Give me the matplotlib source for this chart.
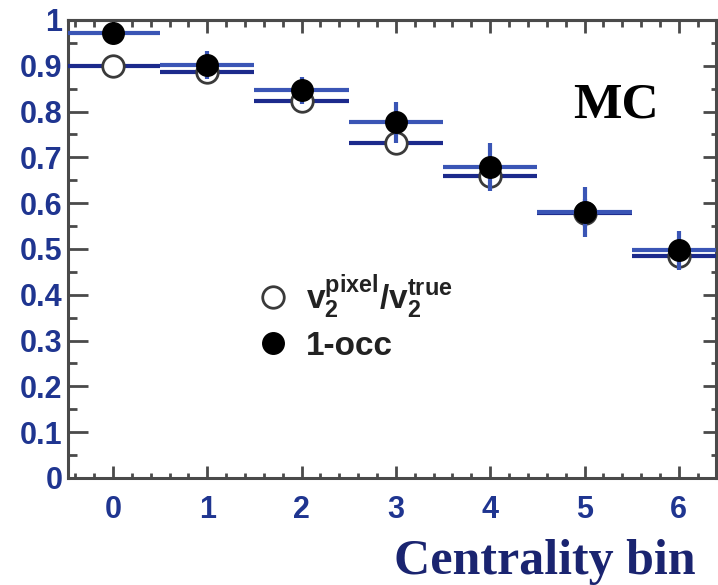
import matplotlib
matplotlib.use("Agg")
import matplotlib.pyplot as plt
from matplotlib.ticker import MultipleLocator, FixedLocator
from matplotlib.lines import Line2D

plt.rcParams['font.family'] = ['Liberation Sans', 'DejaVu Sans']
plt.rcParams['mathtext.fontset'] = 'custom'
plt.rcParams['mathtext.rm'] = 'Liberation Sans'
plt.rcParams['mathtext.bf'] = 'Liberation Sans:bold'
plt.rcParams['mathtext.it'] = 'Liberation Sans'

# datos
bins      = [0, 1, 2, 3, 4, 5, 6]
ancho_bin = 0.5
occ       = [0.972, 0.902, 0.846, 0.776, 0.679, 0.580, 0.497]   # 1-occ (llenos)
occ_err   = [0.012, 0.030, 0.030, 0.045, 0.052, 0.055, 0.043]
ratio     = [0.899, 0.887, 0.822, 0.731, 0.660, 0.578, 0.484]   # v2 pixel / v2 true (vacios)
ratio_err = [0.022, 0.028, 0.022, 0.022, 0.028, 0.030, 0.025]

yticks      = [0, 0.1, 0.2, 0.3, 0.4, 0.5, 0.6, 0.7, 0.8, 0.9, 1.0]
ytick_lbls  = ["0", "0.1", "0.2", "0.3", "0.4", "0.5", "0.6", "0.7", "0.8", "0.9", "1"]
xtick_lbls  = ["0", "1", "2", "3", "4", "5", "6"]

AZUL_TICK = '#1f3590'
GRIS      = '#4a4a4a'

fig = plt.figure(figsize=(7.18, 5.85), dpi=100)
ax = fig.add_axes([0.0947, 0.183, 0.9025, 0.783])

ax.errorbar(bins, ratio, xerr=ancho_bin, yerr=ratio_err, fmt='o', ms=15.5,
            mfc='white', mec='#3a3a3a', mew=2.0, ecolor='#1c2a8c',
            elinewidth=3, capsize=0, zorder=3)
ax.errorbar(bins, occ, xerr=ancho_bin, yerr=occ_err, fmt='o', ms=15.5,
            mfc='black', mec='black', ecolor='#3a55b5',
            elinewidth=3, capsize=0, zorder=4)

ax.set_xlim(-0.477, 6.394)
ax.set_ylim(0, 1.0)

ax.xaxis.set_major_locator(FixedLocator(bins))
ax.set_xticklabels(xtick_lbls)
ax.xaxis.set_minor_locator(MultipleLocator(0.2))
ax.yaxis.set_major_locator(FixedLocator(yticks))
ax.set_yticklabels(ytick_lbls)
ax.yaxis.set_minor_locator(MultipleLocator(0.05))

ax.tick_params(axis='y', which='major', direction='in', length=14.5, width=2,
               color=GRIS, labelsize=22, labelcolor=AZUL_TICK, pad=4,
               right=False)
ax.tick_params(axis='y', which='minor', direction='in', length=6.5, width=2,
               color=GRIS, right=False)
ax.tick_params(axis='x', which='major', direction='in', length=8.5, width=2,
               color=GRIS, labelsize=22, labelcolor=AZUL_TICK, pad=12, top=False)
ax.tick_params(axis='x', which='minor', direction='in', length=3.6, width=2,
               color=GRIS, top=False)
for lbl in ax.get_xticklabels() + ax.get_yticklabels():
    lbl.set_fontweight('bold')

for s in ax.spines.values():
    s.set_color(GRIS)
    s.set_linewidth(2.2)

# ejes secundarios para los ticks de arriba y derecha (mas cortos)
sx = ax.secondary_xaxis('top')
sx.xaxis.set_major_locator(FixedLocator(bins))
sx.xaxis.set_minor_locator(MultipleLocator(0.2))
sx.tick_params(which='major', direction='in', length=9.5, width=2, color=GRIS, labeltop=False)
sx.tick_params(which='minor', direction='in', length=5, width=2, color=GRIS)
sx.spines['top'].set_color(GRIS)
sx.spines['top'].set_linewidth(2.2)

sy = ax.secondary_yaxis('right')
sy.yaxis.set_major_locator(FixedLocator(yticks))
sy.yaxis.set_minor_locator(MultipleLocator(0.05))
sy.tick_params(which='major', direction='in', length=9.5, width=2, color=GRIS, labelright=False)
sy.tick_params(which='minor', direction='in', length=3.6, width=2, color=GRIS)

# leyenda
handles = [
    Line2D([], [], ls='none', marker='o', ms=15.5, mfc='white', mec='#3a3a3a', mew=2.0),
    Line2D([], [], ls='none', marker='o', ms=15.5, mfc='black', mec='black'),
]
labels = [r'$\mathbf{v_2^{pixel}/v_2^{true}}$', '1-occ']
leg = ax.legend(handles, labels, loc='upper left', bbox_to_anchor=(0.275, 0.478),
                frameon=False, prop={'size': 24, 'weight': 'bold'},
                handlelength=0.8, handletextpad=0.6,
                labelspacing=0.3, borderaxespad=0)
for t in leg.get_texts():
    t.set_color('#222222')

fig.text(573 / 718, 1 - 117 / 585, 'MC', family='Liberation Serif', weight='bold',
         fontsize=37, color='black', va='baseline', ha='left')
fig.text(696 / 718, 1 - 574 / 585, 'Centrality bin', family='Liberation Serif',
         weight='bold', fontsize=36, color='#1a2470', va='baseline', ha='right')

fig.savefig('out.png', dpi=100)
